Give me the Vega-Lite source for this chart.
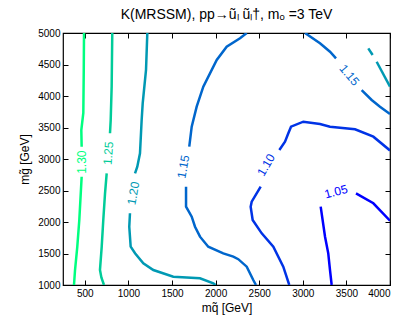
{
  "$schema": "https://vega.github.io/schema/vega-lite/v6.json",
  "width": 327,
  "height": 252,
  "autosize": {"type": "none"},
  "padding": {"left": 63, "top": 33, "right": 25, "bottom": 51},
  "config": {
    "view": {"stroke": "#000000", "strokeWidth": 1.2},
    "font": "Liberation Sans",
    "axis": {"grid": false, "domain": false, "tickColor": "#000000", "labelColor": "#000000", "labelFontSize": 10, "titleFontSize": 12, "titleFontWeight": "normal", "titleColor": "#000000", "labelFont": "Liberation Sans", "titleFont": "Liberation Sans"}
  },
  "title": {"text": "K(MRSSM), pp→ũₗ ũₗ†, mₒ =3 TeV", "fontSize": 14, "fontWeight": "normal", "font": "Liberation Sans", "color": "#000000", "offset": 6},
  "datasets": {
    "lines": [
      {"level": "1.30", "seg": "a30a", "i": 1, "x": 491, "y": 5000},
      {"level": "1.30", "seg": "a30a", "i": 2, "x": 488, "y": 4400},
      {"level": "1.30", "seg": "a30a", "i": 3, "x": 483, "y": 3730},
      {"level": "1.30", "seg": "a30a", "i": 4, "x": 460, "y": 3460},
      {"level": "1.30", "seg": "a30a", "i": 5, "x": 464, "y": 3195},
      {"level": "1.30", "seg": "a30b", "i": 1, "x": 464, "y": 2719},
      {"level": "1.30", "seg": "a30b", "i": 2, "x": 437, "y": 2032},
      {"level": "1.30", "seg": "a30b", "i": 3, "x": 414, "y": 1608},
      {"level": "1.30", "seg": "a30b", "i": 4, "x": 388, "y": 1238},
      {"level": "1.30", "seg": "a30b", "i": 5, "x": 376, "y": 1000},
      {"level": "1.25", "seg": "a25a", "i": 1, "x": 815, "y": 5000},
      {"level": "1.25", "seg": "a25a", "i": 2, "x": 808, "y": 4148},
      {"level": "1.25", "seg": "a25a", "i": 3, "x": 797, "y": 3619},
      {"level": "1.25", "seg": "a25a", "i": 4, "x": 789, "y": 3408},
      {"level": "1.25", "seg": "a25b", "i": 1, "x": 751, "y": 2773},
      {"level": "1.25", "seg": "a25b", "i": 2, "x": 732, "y": 2455},
      {"level": "1.25", "seg": "a25b", "i": 3, "x": 712, "y": 2032},
      {"level": "1.25", "seg": "a25b", "i": 4, "x": 694, "y": 1608},
      {"level": "1.25", "seg": "a25b", "i": 5, "x": 674, "y": 1238},
      {"level": "1.25", "seg": "a25b", "i": 6, "x": 690, "y": 1120},
      {"level": "1.25", "seg": "a25b", "i": 7, "x": 720, "y": 1000},
      {"level": "1.20", "seg": "a20a", "i": 1, "x": 1217, "y": 5000},
      {"level": "1.20", "seg": "a20a", "i": 2, "x": 1202, "y": 4413},
      {"level": "1.20", "seg": "a20a", "i": 3, "x": 1164, "y": 3884},
      {"level": "1.20", "seg": "a20a", "i": 4, "x": 1152, "y": 3619},
      {"level": "1.20", "seg": "a20a", "i": 5, "x": 1133, "y": 3091},
      {"level": "1.20", "seg": "a20a", "i": 6, "x": 1102, "y": 2878},
      {"level": "1.20", "seg": "a20a", "i": 7, "x": 1076, "y": 2773},
      {"level": "1.20", "seg": "a20b", "i": 1, "x": 1018, "y": 2138},
      {"level": "1.20", "seg": "a20b", "i": 2, "x": 1010, "y": 1925},
      {"level": "1.20", "seg": "a20b", "i": 3, "x": 1026, "y": 1608},
      {"level": "1.20", "seg": "a20b", "i": 4, "x": 1076, "y": 1503},
      {"level": "1.20", "seg": "a20b", "i": 5, "x": 1171, "y": 1344},
      {"level": "1.20", "seg": "a20b", "i": 6, "x": 1286, "y": 1238},
      {"level": "1.20", "seg": "a20b", "i": 7, "x": 1515, "y": 1132},
      {"level": "1.20", "seg": "a20b", "i": 8, "x": 1821, "y": 1106},
      {"level": "1.20", "seg": "a20b", "i": 9, "x": 1974, "y": 1027},
      {"level": "1.20", "seg": "a20b", "i": 10, "x": 2000, "y": 1000},
      {"level": "1.20", "seg": "a20c", "i": 1, "x": 3751, "y": 4757},
      {"level": "1.20", "seg": "a20c", "i": 2, "x": 3801, "y": 4651},
      {"level": "1.20", "seg": "a20d", "i": 1, "x": 3847, "y": 4544},
      {"level": "1.20", "seg": "a20d", "i": 2, "x": 4000, "y": 4150},
      {"level": "1.15", "seg": "a15a", "i": 1, "x": 2357, "y": 5000},
      {"level": "1.15", "seg": "a15a", "i": 2, "x": 2280, "y": 4916},
      {"level": "1.15", "seg": "a15a", "i": 3, "x": 2127, "y": 4783},
      {"level": "1.15", "seg": "a15a", "i": 4, "x": 2013, "y": 4571},
      {"level": "1.15", "seg": "a15a", "i": 5, "x": 1859, "y": 4148},
      {"level": "1.15", "seg": "a15a", "i": 6, "x": 1783, "y": 3830},
      {"level": "1.15", "seg": "a15a", "i": 7, "x": 1726, "y": 3513},
      {"level": "1.15", "seg": "a15a", "i": 8, "x": 1698, "y": 3195},
      {"level": "1.15", "seg": "a15b", "i": 1, "x": 1661, "y": 2560},
      {"level": "1.15", "seg": "a15b", "i": 2, "x": 1661, "y": 2243},
      {"level": "1.15", "seg": "a15b", "i": 3, "x": 1726, "y": 2084},
      {"level": "1.15", "seg": "a15b", "i": 4, "x": 1764, "y": 1925},
      {"level": "1.15", "seg": "a15b", "i": 5, "x": 1821, "y": 1767},
      {"level": "1.15", "seg": "a15b", "i": 6, "x": 1916, "y": 1608},
      {"level": "1.15", "seg": "a15b", "i": 7, "x": 2088, "y": 1503},
      {"level": "1.15", "seg": "a15b", "i": 8, "x": 2203, "y": 1450},
      {"level": "1.15", "seg": "a15b", "i": 9, "x": 2260, "y": 1410},
      {"level": "1.15", "seg": "a15b", "i": 10, "x": 2357, "y": 1291},
      {"level": "1.15", "seg": "a15b", "i": 11, "x": 2432, "y": 1079},
      {"level": "1.15", "seg": "a15b", "i": 12, "x": 2463, "y": 1000},
      {"level": "1.15", "seg": "a15c", "i": 1, "x": 3025, "y": 5000},
      {"level": "1.15", "seg": "a15c", "i": 2, "x": 3197, "y": 4836},
      {"level": "1.15", "seg": "a15c", "i": 3, "x": 3312, "y": 4703},
      {"level": "1.15", "seg": "a15c", "i": 4, "x": 3381, "y": 4598},
      {"level": "1.15", "seg": "a15d", "i": 1, "x": 3675, "y": 4095},
      {"level": "1.15", "seg": "a15d", "i": 2, "x": 3790, "y": 3937},
      {"level": "1.15", "seg": "a15d", "i": 3, "x": 3885, "y": 3830},
      {"level": "1.15", "seg": "a15d", "i": 4, "x": 4000, "y": 3715},
      {"level": "1.10", "seg": "a10a", "i": 1, "x": 2845, "y": 1000},
      {"level": "1.10", "seg": "a10a", "i": 2, "x": 2776, "y": 1291},
      {"level": "1.10", "seg": "a10a", "i": 3, "x": 2662, "y": 1608},
      {"level": "1.10", "seg": "a10a", "i": 4, "x": 2529, "y": 1820},
      {"level": "1.10", "seg": "a10a", "i": 5, "x": 2425, "y": 2032},
      {"level": "1.10", "seg": "a10a", "i": 6, "x": 2402, "y": 2243},
      {"level": "1.10", "seg": "a10a", "i": 7, "x": 2414, "y": 2322},
      {"level": "1.10", "seg": "a10a", "i": 8, "x": 2517, "y": 2560},
      {"level": "1.10", "seg": "a10b", "i": 1, "x": 2731, "y": 3143},
      {"level": "1.10", "seg": "a10b", "i": 2, "x": 2796, "y": 3275},
      {"level": "1.10", "seg": "a10b", "i": 3, "x": 2834, "y": 3408},
      {"level": "1.10", "seg": "a10b", "i": 4, "x": 2865, "y": 3513},
      {"level": "1.10", "seg": "a10b", "i": 5, "x": 3006, "y": 3592},
      {"level": "1.10", "seg": "a10b", "i": 6, "x": 3197, "y": 3555},
      {"level": "1.10", "seg": "a10b", "i": 7, "x": 3312, "y": 3513},
      {"level": "1.10", "seg": "a10b", "i": 8, "x": 3599, "y": 3471},
      {"level": "1.10", "seg": "a10b", "i": 9, "x": 3809, "y": 3354},
      {"level": "1.10", "seg": "a10b", "i": 10, "x": 4000, "y": 3135},
      {"level": "1.05", "seg": "a05a", "i": 1, "x": 3205, "y": 2243},
      {"level": "1.05", "seg": "a05a", "i": 2, "x": 3255, "y": 1767},
      {"level": "1.05", "seg": "a05a", "i": 3, "x": 3292, "y": 1503},
      {"level": "1.05", "seg": "a05a", "i": 4, "x": 3312, "y": 1238},
      {"level": "1.05", "seg": "a05a", "i": 5, "x": 3331, "y": 1000},
      {"level": "1.05", "seg": "a05b", "i": 1, "x": 3610, "y": 2455},
      {"level": "1.05", "seg": "a05b", "i": 2, "x": 3809, "y": 2297},
      {"level": "1.05", "seg": "a05b", "i": 3, "x": 4000, "y": 2020}
    ],
    "labels": [
      {"id": "l30", "level": "1.30", "x": 464, "y": 2950},
      {"id": "l25", "level": "1.25", "x": 770, "y": 3091},
      {"id": "l20", "level": "1.20", "x": 1057, "y": 2455},
      {"id": "l15a", "level": "1.15", "x": 1630, "y": 2878},
      {"id": "l10", "level": "1.10", "x": 2578, "y": 2905},
      {"id": "l05", "level": "1.05", "x": 3381, "y": 2481},
      {"id": "l15b", "level": "1.15", "x": 3533, "y": 4333}
    ]
  },
  "resolve": {"axis": {"x": "independent", "y": "independent"}},
  "layer": [
    {
      "data": {"name": "lines"},
      "mark": {"type": "line", "strokeWidth": 2.5, "clip": true},
      "encoding": {
        "x": {"field": "x", "type": "quantitative", "scale": {"domain": [250, 4000], "nice": false, "zero": false},
              "axis": {"title": "mq̃ [GeV]", "values": [500, 1000, 1500, 2000, 2500, 3000, 3500, 4000], "tickSize": -5, "labelPadding": 8, "format": "d", "titlePadding": 4}},
        "y": {"field": "y", "type": "quantitative", "scale": {"domain": [1000, 5000], "nice": false, "zero": false},
              "axis": {"title": "mg̃ [GeV]", "values": [1000, 1500, 2000, 2500, 3000, 3500, 4000, 4500, 5000], "tickSize": -5, "labelPadding": 8, "format": "d", "titlePadding": 6}},
        "detail": {"field": "seg"},
        "order": {"field": "i", "type": "quantitative"},
        "color": {"field": "level", "type": "nominal", "legend": null,
                  "scale": {"domain": ["1.05", "1.10", "1.15", "1.20", "1.25", "1.30"], "range": ["#0000ff", "#0033e6", "#0066cc", "#0099b3", "#00cc99", "#00ff80"]}}
      }
    },
    {
      "data": {"name": "lines"},
      "mark": {"type": "point", "opacity": 0},
      "encoding": {
        "x": {"field": "x", "type": "quantitative", "axis": {"orient": "top", "labels": false, "title": null, "values": [500, 1000, 1500, 2000, 2500, 3000, 3500, 4000], "tickSize": -5}},
        "y": {"field": "y", "type": "quantitative", "axis": {"orient": "right", "labels": false, "title": null, "values": [1000, 1500, 2000, 2500, 3000, 3500, 4000, 4500, 5000], "tickSize": -5}}
      }
    },
    {
      "data": {"name": "labels"},
      "transform": [{"filter": "datum.id == 'l30'"}],
      "mark": {"type": "text", "angle": 270, "fontSize": 12, "font": "Liberation Sans"},
      "encoding": {"x": {"field": "x", "type": "quantitative", "axis": null}, "y": {"field": "y", "type": "quantitative", "axis": null}, "text": {"field": "level"}, "color": {"field": "level", "type": "nominal", "legend": null}}
    },
    {
      "data": {"name": "labels"},
      "transform": [{"filter": "datum.id == 'l25'"}],
      "mark": {"type": "text", "angle": 274, "fontSize": 12, "font": "Liberation Sans"},
      "encoding": {"x": {"field": "x", "type": "quantitative", "axis": null}, "y": {"field": "y", "type": "quantitative", "axis": null}, "text": {"field": "level"}, "color": {"field": "level", "type": "nominal", "legend": null}}
    },
    {
      "data": {"name": "labels"},
      "transform": [{"filter": "datum.id == 'l20'"}],
      "mark": {"type": "text", "angle": 280, "fontSize": 12, "font": "Liberation Sans"},
      "encoding": {"x": {"field": "x", "type": "quantitative", "axis": null}, "y": {"field": "y", "type": "quantitative", "axis": null}, "text": {"field": "level"}, "color": {"field": "level", "type": "nominal", "legend": null}}
    },
    {
      "data": {"name": "labels"},
      "transform": [{"filter": "datum.id == 'l15a'"}],
      "mark": {"type": "text", "angle": 280, "fontSize": 12, "font": "Liberation Sans"},
      "encoding": {"x": {"field": "x", "type": "quantitative", "axis": null}, "y": {"field": "y", "type": "quantitative", "axis": null}, "text": {"field": "level"}, "color": {"field": "level", "type": "nominal", "legend": null}}
    },
    {
      "data": {"name": "labels"},
      "transform": [{"filter": "datum.id == 'l10'"}],
      "mark": {"type": "text", "angle": 300, "fontSize": 12, "font": "Liberation Sans"},
      "encoding": {"x": {"field": "x", "type": "quantitative", "axis": null}, "y": {"field": "y", "type": "quantitative", "axis": null}, "text": {"field": "level"}, "color": {"field": "level", "type": "nominal", "legend": null}}
    },
    {
      "data": {"name": "labels"},
      "transform": [{"filter": "datum.id == 'l05'"}],
      "mark": {"type": "text", "angle": 345, "fontSize": 12, "font": "Liberation Sans"},
      "encoding": {"x": {"field": "x", "type": "quantitative", "axis": null}, "y": {"field": "y", "type": "quantitative", "axis": null}, "text": {"field": "level"}, "color": {"field": "level", "type": "nominal", "legend": null}}
    },
    {
      "data": {"name": "labels"},
      "transform": [{"filter": "datum.id == 'l15b'"}],
      "mark": {"type": "text", "angle": 50, "fontSize": 12, "font": "Liberation Sans"},
      "encoding": {"x": {"field": "x", "type": "quantitative", "axis": null}, "y": {"field": "y", "type": "quantitative", "axis": null}, "text": {"field": "level"}, "color": {"field": "level", "type": "nominal", "legend": null}}
    }
  ]
}
